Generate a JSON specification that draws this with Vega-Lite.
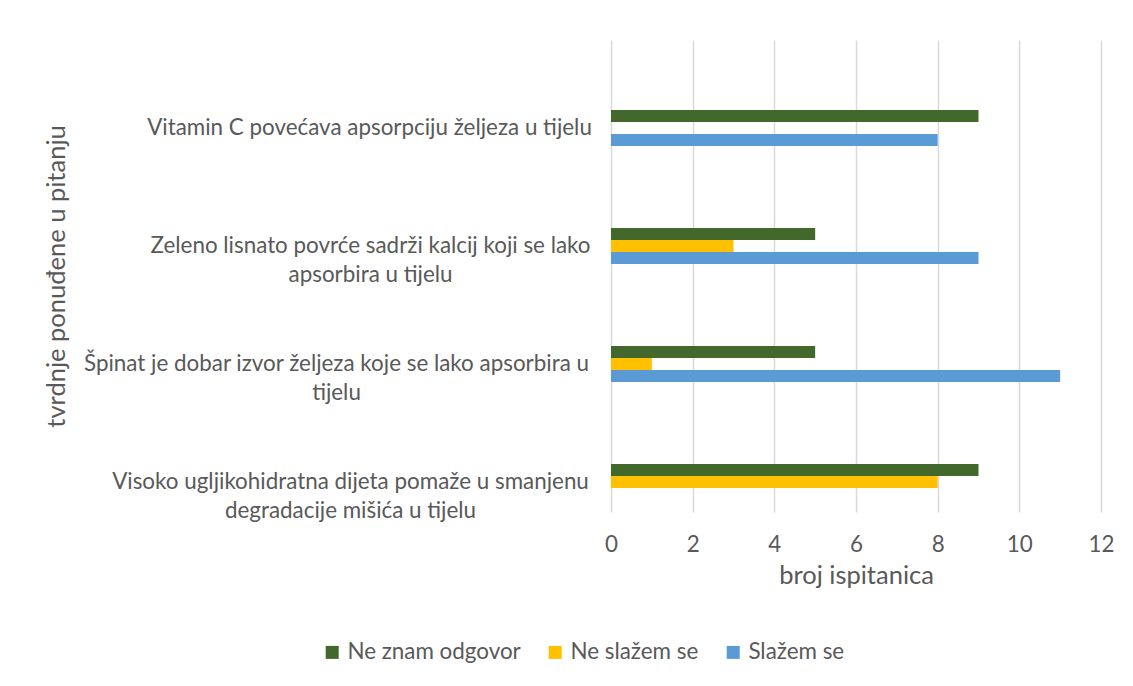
{
  "$schema": "https://vega.github.io/schema/vega-lite/v6.json",
  "width": 490,
  "height": 472,
  "autosize": {"type": "none"},
  "padding": {"left": 611, "top": 40, "right": 32, "bottom": 174},
  "background": "white",
  "config": {
    "font": "Lato",
    "view": {"stroke": null},
    "axis": {"tickSize": 0, "ticks": false, "domain": false, "labelColor": "#595959", "titleColor": "#595959", "titleFontWeight": "normal", "labelFont": "Lato", "titleFont": "Lato"}
  },
  "data": {
    "values": [
      {"tvrdnja": "Vitamin C povećava apsorpciju željeza u tijelu", "odgovor": "Ne znam odgovor", "broj": 9},
      {"tvrdnja": "Vitamin C povećava apsorpciju željeza u tijelu", "odgovor": "Slažem se", "broj": 8},
      {"tvrdnja": "Zeleno lisnato povrće sadrži kalcij koji se lako apsorbira u tijelu", "odgovor": "Ne znam odgovor", "broj": 5},
      {"tvrdnja": "Zeleno lisnato povrće sadrži kalcij koji se lako apsorbira u tijelu", "odgovor": "Ne slažem se", "broj": 3},
      {"tvrdnja": "Zeleno lisnato povrće sadrži kalcij koji se lako apsorbira u tijelu", "odgovor": "Slažem se", "broj": 9},
      {"tvrdnja": "Špinat je dobar izvor željeza koje se lako apsorbira u tijelu", "odgovor": "Ne znam odgovor", "broj": 5},
      {"tvrdnja": "Špinat je dobar izvor željeza koje se lako apsorbira u tijelu", "odgovor": "Ne slažem se", "broj": 1},
      {"tvrdnja": "Špinat je dobar izvor željeza koje se lako apsorbira u tijelu", "odgovor": "Slažem se", "broj": 11},
      {"tvrdnja": "Visoko ugljikohidratna dijeta pomaže u smanjenu degradacije mišića u tijelu", "odgovor": "Ne znam odgovor", "broj": 9},
      {"tvrdnja": "Visoko ugljikohidratna dijeta pomaže u smanjenu degradacije mišića u tijelu", "odgovor": "Ne slažem se", "broj": 8}
    ]
  },
  "mark": {"type": "bar"},
  "encoding": {
    "y": {
      "field": "tvrdnja",
      "type": "nominal",
      "sort": [
        "Vitamin C povećava apsorpciju željeza u tijelu",
        "Zeleno lisnato povrće sadrži kalcij koji se lako apsorbira u tijelu",
        "Špinat je dobar izvor željeza koje se lako apsorbira u tijelu",
        "Visoko ugljikohidratna dijeta pomaže u smanjenu degradacije mišića u tijelu"
      ],
      "scale": {"paddingInner": 0, "paddingOuter": 0},
      "axis": {
        "title": "tvrdnje ponuđene u pitanju",
        "titleFontSize": 25.5,
        "titleAngle": 270,
        "titleX": -547,
        "titleY": 236,
        "titleAlign": "center",
        "titleBaseline": "alphabetic",
        "grid": false,
        "labelFontSize": 22.4,
        "labelLimit": 0,
        "labelAlign": "center",
        "labelBaseline": "middle",
        "labelLineHeight": 28.5,
        "labelOffset": 29,
        "labelPadding": {
          "condition": [
            {"test": "datum.value == 'Vitamin C povećava apsorpciju željeza u tijelu'", "value": 242},
            {"test": "datum.value == 'Zeleno lisnato povrće sadrži kalcij koji se lako apsorbira u tijelu'", "value": 241},
            {"test": "datum.value == 'Špinat je dobar izvor željeza koje se lako apsorbira u tijelu'", "value": 275}
          ],
          "value": 261
        },
        "labelExpr": "datum.value == 'Zeleno lisnato povrće sadrži kalcij koji se lako apsorbira u tijelu' ? ['Zeleno lisnato povrće sadrži kalcij koji se lako', 'apsorbira u tijelu'] : datum.value == 'Špinat je dobar izvor željeza koje se lako apsorbira u tijelu' ? ['Špinat je dobar izvor željeza koje se lako apsorbira u', 'tijelu'] : datum.value == 'Visoko ugljikohidratna dijeta pomaže u smanjenu degradacije mišića u tijelu' ? ['Visoko ugljikohidratna dijeta pomaže u smanjenu', 'degradacije mišića u tijelu'] : datum.value"
      }
    },
    "yOffset": {
      "field": "odgovor",
      "type": "nominal",
      "scale": {
        "domain": ["p1", "p2", "p3", "p4", "p5", "Ne znam odgovor", "Ne slažem se", "Slažem se"],
        "paddingInner": 0,
        "paddingOuter": 0.9167,
        "align": 0.45
      }
    },
    "x": {
      "field": "broj",
      "type": "quantitative",
      "scale": {"domain": [0, 12], "nice": false},
      "axis": {
        "values": [0, 2, 4, 6, 8, 10, 12],
        "title": "broj ispitanica",
        "titleFontSize": 25.5,
        "titleY": 71,
        "titleBaseline": "alphabetic",
        "grid": true,
        "gridColor": "#D9D9D9",
        "gridWidth": 1.5,
        "labelFontSize": 22.4,
        "labelFlush": false,
        "labelOverlap": false,
        "labelBaseline": "alphabetic",
        "labelPadding": 39
      }
    },
    "color": {
      "field": "odgovor",
      "type": "nominal",
      "scale": {
        "domain": ["Ne znam odgovor", "Ne slažem se", "Slažem se"],
        "range": ["#43682B", "#FFC000", "#5B9BD5"]
      },
      "legend": {
        "orient": "none",
        "direction": "horizontal",
        "legendX": -290,
        "legendY": 601,
        "title": null,
        "labelFontSize": 22.4,
        "labelColor": "#595959",
        "labelFont": "Lato",
        "labelLimit": 0,
        "symbolType": "square",
        "symbolSize": 169,
        "symbolStrokeWidth": 0,
        "labelOffset": 4,
        "columnPadding": 23
      }
    }
  }
}
